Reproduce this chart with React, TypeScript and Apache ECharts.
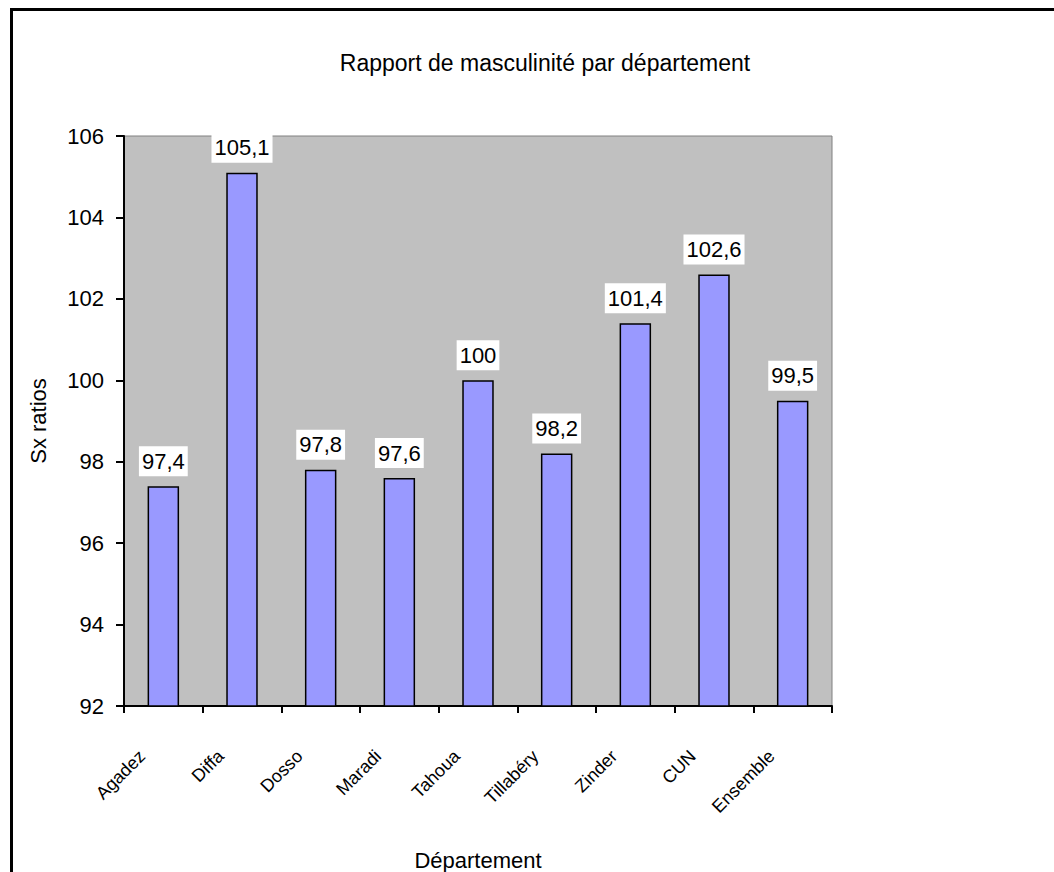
import React, { useEffect, useRef } from "react";
import * as echarts from "echarts";

const categories = ["Agadez", "Diffa", "Dosso", "Maradi", "Tahoua", "Tillabéry", "Zinder", "CUN", "Ensemble"];
const ratios = [97.4, 105.1, 97.8, 97.6, 100, 98.2, 101.4, 102.6, 99.5];
const titleText = "Rapport de masculinité par département";
const yName = "Sx ratios";
const xName = "Département";
const yMin = 92;
const yMax = 106;
const yStep = 2;

const FONT = "Arial, 'Liberation Sans', sans-serif";

export default function App() {
  const ref = useRef<HTMLDivElement>(null);
  useEffect(() => {
    document.body.style.margin = "0";
    const chart = echarts.init(ref.current!, null, { renderer: "svg" });
    chart.setOption({
      animation: false,
      backgroundColor: "#ffffff",
      textStyle: { fontFamily: FONT },
      title: {
        text: titleText,
        top: 46,
        left: 540,
        textAlign: "center",
        textStyle: { fontFamily: FONT, fontSize: 23, fontWeight: "normal", color: "#000" },
      },
      graphic: [
        {
          type: "rect",
          shape: { x: 11.5, y: 9.5, width: 3000, height: 3000 },
          style: { fill: "none", stroke: "#000", lineWidth: 3 },
          silent: true,
        },
      ],
      grid: {
        left: 124,
        top: 136,
        right: 222,
        bottom: 166,
        outerBoundsMode: "none",
        containLabel: false,
        show: true,
        backgroundColor: "#c0c0c0",
        borderColor: "#808080",
        borderWidth: 1,
      },
      xAxis: {
        type: "category",
        data: categories,
        name: xName,
        nameLocation: "middle",
        nameGap: 143,
        nameTextStyle: { fontFamily: FONT, fontSize: 22, color: "#000" },
        axisLine: { show: true, lineStyle: { color: "#000", width: 2 } },
        axisTick: { show: true, length: 7, alignWithLabel: false, lineStyle: { color: "#000", width: 2 } },
        axisLabel: {
          rotate: 45,
          interval: 0,
          margin: 26,
          padding: [0, 30, 0, 0],
          fontFamily: FONT,
          fontSize: 18,
          color: "#000",
        },
        splitLine: { show: false },
      },
      yAxis: {
        type: "value",
        min: yMin,
        max: yMax,
        interval: yStep,
        name: yName,
        nameLocation: "middle",
        nameGap: 75,
        nameTextStyle: { fontFamily: FONT, fontSize: 22, color: "#000" },
        axisLine: { show: true, lineStyle: { color: "#000", width: 2 } },
        axisTick: { show: true, length: 8, lineStyle: { color: "#000", width: 2 } },
        axisLabel: { margin: 20, fontFamily: FONT, fontSize: 22, color: "#000" },
        splitLine: { show: false },
      },
      series: [
        {
          type: "bar",
          data: ratios,
          barWidth: "40%",
          itemStyle: { color: "#9999ff", borderColor: "#000", borderWidth: 1.5 },
          label: {
            show: true,
            position: "top",
            distance: 10,
            formatter: (p: any) => String(p.value).replace(".", ","),
            fontFamily: FONT,
            fontSize: 22,
            lineHeight: 26,
            color: "#000",
            backgroundColor: "#ffffff",
            padding: [2, 3, 2, 3],
          },
        },
      ],
    });
    return () => chart.dispose();
  }, []);
  return <div ref={ref} style={{ width: 1054, height: 872 }} />;
}
